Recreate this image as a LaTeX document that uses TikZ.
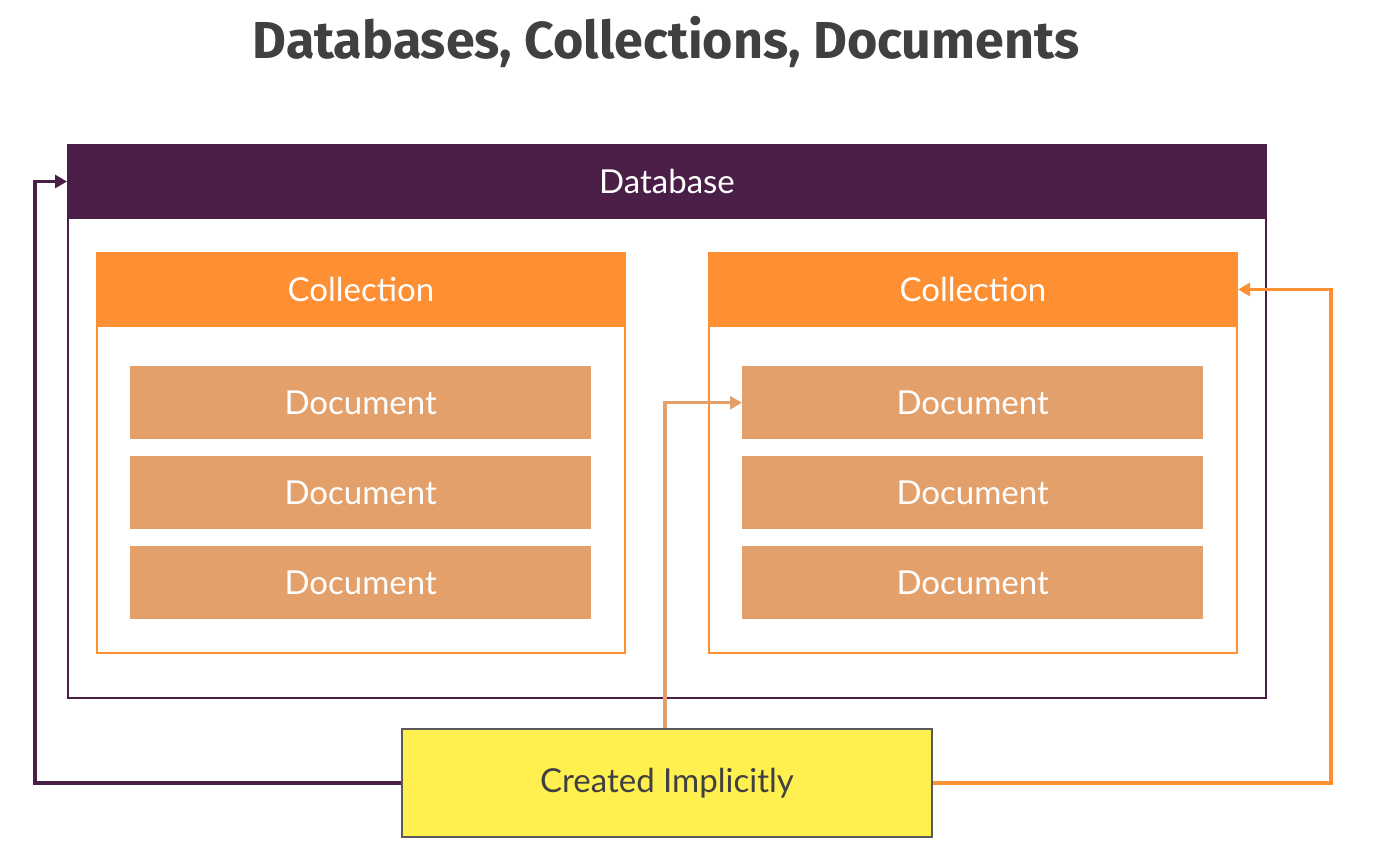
\documentclass[tikz,border=0pt]{standalone}
\usepackage{fontspec}
\setmainfont{Lato}
\newfontfamily\titlefont{Fira Sans}
\usetikzlibrary{arrows.meta, calc, positioning}
\definecolor{dbcol}{RGB}{74, 30, 71}
\definecolor{collcol}{RGB}{255, 143, 51}
\definecolor{doccol}{RGB}{227, 160, 106}
\definecolor{implcol}{RGB}{255, 239, 79}
\definecolor{textcol}{RGB}{64, 64, 64}
\definecolor{edgecol}{RGB}{90, 90, 90}
\tikzset{
  txt/.style     = {font=\fontsize{33}{38}\selectfont, text=white},
  frame/.style   = {draw, line width=2pt, anchor=north west, inner sep=0pt},
  dbbox/.style   = {frame, draw=dbcol, minimum width=1198pt, minimum height=553pt},
  dbhead/.style  = {frame, txt, draw=dbcol, fill=dbcol, minimum width=1198pt,
                    minimum height=73pt},
  collbox/.style = {frame, draw=collcol, minimum width=528pt, minimum height=400pt},
  collhead/.style= {frame, txt, draw=collcol, fill=collcol, minimum width=528pt,
                    minimum height=73pt},
  doc/.style     = {txt, fill=doccol, anchor=north west, inner sep=0pt,
                    minimum width=461pt, minimum height=73pt},
  impl/.style    = {draw=edgecol, line width=2pt, fill=implcol, text=textcol,
                    font=\fontsize{33}{38}\selectfont, anchor=north west,
                    inner sep=0pt, minimum width=530pt, minimum height=108pt},
  link/.style    = {line width=3.5pt, -{Triangle[length=12pt, width=13pt]}},
}
\begin{document}
\begin{tikzpicture}[x=1pt, y=-1pt]
  \useasboundingbox (0,0) rectangle (1375,855);

  %% ---------------- title ----------------
  \node[font=\titlefont\bfseries\fontsize{52}{58}\selectfont, text=textcol]
       (title) at (666,42) {Databases, Collections, Documents};

  %% ---------------- the database ----------------
  \node[dbbox] (db) at (67,144) {};
  \node[dbhead] (dbh) at (67,144) {Database};

  %% ---------------- the two collections ----------------
  \foreach \c/\x in {l/96, r/708} {
    \node[collbox] (coll\c) at (\x,252) {};
    \node[collhead] (collh\c) at (\x,252) {Collection};
  }

  %% ---------------- the documents ----------------
  \foreach \c/\x in {l/130, r/742} {
    \foreach \i/\y in {1/366, 2/456, 3/546} {
      \node[doc] (doc\c\i) at (\x,\y) {Document};
    }
  }

  %% ---------------- created implicitly ----------------
  \node[impl] (impl) at (401,728) {Created Implicitly};

  \draw[link, draw=dbcol] (impl.west) -| ($(dbh.west)+(-32,0)$) -- (dbh.west);
  \draw[link, draw=doccol] (impl.north -| 665,0) |- (docr1.west);
  \draw[link, draw=collcol] (impl.east) -| ($(collhr.east)+(93,0)$)
       -- (collhr.east);

\end{tikzpicture}
\end{document}
